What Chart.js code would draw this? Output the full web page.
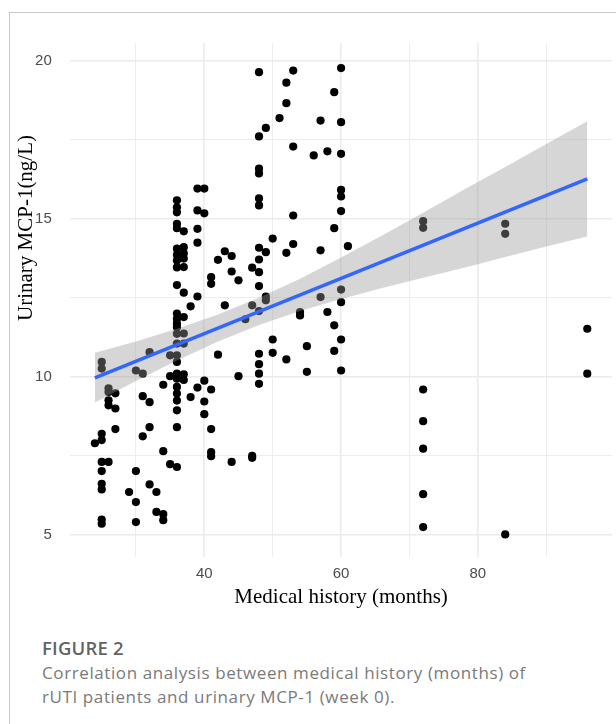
<!DOCTYPE html>
<html lang="en">
<head>
<meta charset="UTF-8">
<title>Medical history vs urinary MCP-1</title>
<script src="https://cdn.jsdelivr.net/npm/chart.js@4.4.0/dist/chart.umd.min.js"></script>
<style>
  body { margin: 0; background: #fff; width: 616px; height: 724px; position: relative; overflow: hidden; }
  .frame { position: absolute; left: 9px; top: 12px; right: 0; bottom: 0; border-left: 1px solid #c9c9c9; border-top: 1px solid #c9c9c9; }
  #chart { position: absolute; left: 0; top: 0; }
  .caption { position: absolute; left: 42px; top: 635px; font-family: "Open Sans", sans-serif; color: #7a7a7a; }
  .caption h3 { margin: 0; font-size: 18.5px; font-weight: 600; color: #636363; line-height: 26px; letter-spacing: 0.2px; }
  .caption p { margin: 0; font-size: 17px; line-height: 23.5px; letter-spacing: 0.6px; }
</style>
</head>
<body>
<div class="frame"></div>
<canvas id="chart" width="616" height="620" style="width:616px;height:620px"></canvas>
<div class="caption">
  <h3>FIGURE 2</h3>
  <p>Correlation analysis between medical history (months) of<br>rUTI patients and urinary MCP-1 (week 0).</p>
</div>
<script>
// medical history (months) and the MCP-1 values seen at each of them
const months = [24, 25, 26, 27, 29, 30, 31, 32, 33, 34, 35, 36, 37, 38, 39, 40, 41, 42, 43, 44, 45, 46, 47,
                48, 49, 50, 51, 52, 53, 54, 55, 56, 57, 58, 59, 60, 61, 72, 84, 96];
const mcp1 = [
  [7.9],
  [10.47, 10.26, 8.2, 8.0, 7.31, 7.02, 6.62, 6.44, 5.49, 5.36],
  [9.64, 9.52, 9.26, 9.1, 7.31],
  [9.48, 9.0, 8.35],
  [6.36],
  [10.2, 7.02, 6.04, 5.41],
  [10.1, 9.39, 8.12],
  [10.78, 9.2, 8.41, 6.6],
  [6.36, 5.73],
  [9.75, 7.65, 5.66, 5.47],
  [10.68, 10.02, 7.24],
  [15.58, 15.36, 15.2, 14.84, 14.7, 14.05, 13.86, 13.68, 13.46, 12.9, 12.0, 11.83, 11.68, 11.57,
   11.36, 11.05, 10.68, 10.47, 10.1, 9.94, 9.68, 9.47, 9.25, 8.94, 8.41, 7.15],
  [14.6, 14.1, 13.9, 13.74, 13.47, 12.66, 11.89, 11.37, 11.05, 10.08, 9.9],
  [12.23, 9.36],
  [15.95, 15.26, 14.68, 14.24, 12.54, 9.66],
  [15.95, 15.17, 9.88, 9.22, 8.82],
  [13.15, 12.94, 9.6, 8.35, 7.62, 7.49],
  [13.7, 10.7],
  [13.97, 12.26],
  [13.82, 13.33, 7.31],
  [13.05, 10.02],
  [11.82],
  [13.45, 12.26, 7.5, 7.44],
  [19.63, 17.6, 16.58, 16.43, 15.64, 15.42, 14.08, 13.71, 13.31, 12.87, 12.08, 10.73, 10.4, 10.1, 9.78],
  [17.87, 13.94, 12.54, 12.42],
  [14.37, 11.18, 10.76],
  [18.18],
  [19.3, 18.65, 13.92, 10.55],
  [19.68, 17.28, 15.1, 14.2],
  [12.05, 11.94],
  [10.97, 10.16],
  [17.0],
  [18.1, 14.0, 12.52],
  [17.13, 12.05],
  [19.0, 14.7, 11.63, 10.82],
  [19.76, 18.05, 17.05, 15.91, 15.7, 15.24, 12.76, 12.36, 11.18, 10.2],
  [14.13],
  [14.92, 14.71, 9.6, 8.6, 7.73, 6.29, 5.25],
  [14.84, 14.52, 5.02],
  [11.52, 10.1]
];

// fitted line and its confidence band
const fitX = [24, 96];
const fitY = [9.97, 16.26];
const bandX = [24, 30, 36, 42, 48, 54, 60, 66, 72, 78, 84, 90, 96];
const bandUpper = [10.76, 11.12, 11.52, 11.97, 12.50, 13.10, 13.77, 14.47, 15.19, 15.92, 16.63, 17.36, 18.08];
const bandLower = [9.19, 9.87, 10.52, 11.12, 11.64, 12.08, 12.46, 12.81, 13.13, 13.45, 13.79, 14.12, 14.44];

// axes
const xGrid = [30, 40, 50, 60, 70, 80, 90];
const xLabels = [40, 60, 80];
const yGrid = [5, 7.5, 10, 12.5, 15, 17.5, 20];
const yLabels = [5, 10, 15, 20];
const xTitle = 'Medical history (months)';
const yTitle = 'Urinary MCP-1(ng/L)';

const points = [];
months.forEach((m, i) => mcp1[i].forEach(v => points.push({ x: m, y: v })));
const toXY = (xs, ys) => xs.map((x, i) => ({ x: x, y: ys[i] }));

const yTitlePlugin = {
  id: 'yTitle',
  afterDraw(chart) {
    const ctx = chart.ctx;
    ctx.save();
    ctx.translate(26, 228);
    ctx.rotate(-Math.PI / 2);
    ctx.font = '21px "Liberation Serif"';
    ctx.fillStyle = '#000';
    ctx.textAlign = 'center';
    ctx.textBaseline = 'middle';
    ctx.fillText(yTitle, 0, 0);
    ctx.restore();
  }
};

const tickFont = { family: '"Liberation Sans", Arial', size: 15 };

new Chart(document.getElementById('chart'), {
  type: 'scatter',
  data: {
    datasets: [
      {
        data: points,
        backgroundColor: '#000',
        borderWidth: 0,
        pointRadius: 4.1,
        order: 3
      },
      {
        type: 'line',
        data: toXY(bandX, bandUpper),
        borderWidth: 0,
        pointRadius: 0,
        backgroundColor: 'rgba(153,153,153,0.4)',
        fill: '+1',
        order: 2
      },
      {
        type: 'line',
        data: toXY(bandX, bandLower),
        borderWidth: 0,
        pointRadius: 0,
        fill: false,
        order: 2
      },
      {
        type: 'line',
        data: toXY(fitX, fitY),
        borderColor: '#3366FF',
        borderWidth: 3.5,
        pointRadius: 0,
        fill: false,
        order: 0
      }
    ]
  },
  options: {
    responsive: false,
    animation: false,
    layout: { padding: { top: 43, right: 1.25, bottom: 0, left: 0 } },
    plugins: {
      legend: { display: false },
      tooltip: { enabled: false }
    },
    scales: {
      x: {
        type: 'linear',
        min: 20.4,
        max: 99.6,
        afterBuildTicks: s => { s.ticks = xGrid.map(v => ({ value: v })); },
        afterFit: s => { s.height = 63; },
        grid: {
          color: '#ebebeb',
          lineWidth: c => (c.tick && xLabels.includes(c.tick.value)) ? 1.6 : 0.9,
          drawTicks: false
        },
        border: { display: false },
        ticks: {
          autoSkip: false,
          maxRotation: 0,
          padding: 8,
          color: '#4d4d4d',
          font: tickFont,
          callback: v => xLabels.includes(v) ? String(v) : ''
        },
        title: {
          display: true,
          text: xTitle,
          color: '#000',
          font: { family: '"Liberation Serif"', size: 21 },
          padding: { top: 0, bottom: 10 }
        }
      },
      y: {
        type: 'linear',
        min: 4.305,
        max: 20.553,
        afterBuildTicks: s => { s.ticks = yGrid.map(v => ({ value: v })); },
        afterFit: s => { s.width = 70.25; },
        grid: {
          color: '#ebebeb',
          lineWidth: c => (c.tick && yLabels.includes(c.tick.value)) ? 1.6 : 0.9,
          drawTicks: false
        },
        border: { display: false },
        ticks: {
          autoSkip: false,
          padding: 18.5,
          color: '#4d4d4d',
          font: tickFont,
          callback: v => yLabels.includes(v) ? String(v) : ''
        }
      }
    }
  },
  plugins: [yTitlePlugin]
});
</script>
</body>
</html>
